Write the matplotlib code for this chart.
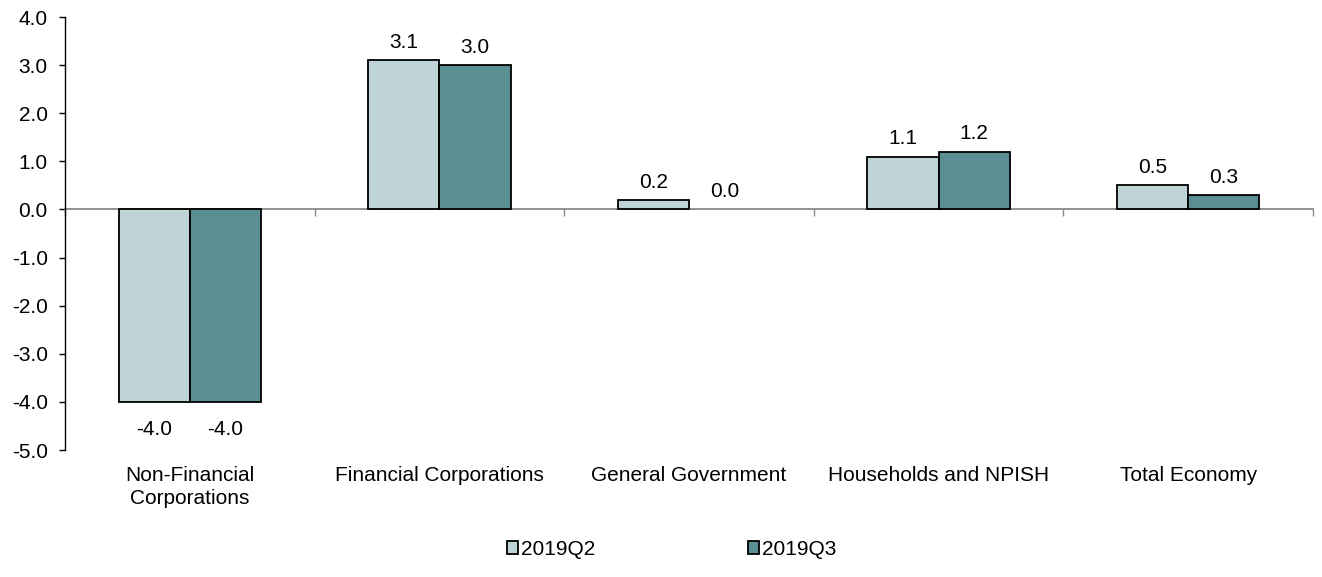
import numpy as np
import matplotlib.pyplot as plt

plt.rcParams['font.family'] = ['Liberation Sans', 'DejaVu Sans']

# Datos
categories = ['Non-Financial\nCorporations', 'Financial Corporations',
              'General Government', 'Households and NPISH', 'Total Economy']
q2 = [-4.0, 3.1, 0.2, 1.1, 0.5]
q3 = [-4.0, 3.0, 0.0, 1.2, 0.3]
series_names = ['2019Q2', '2019Q3']
col_q2 = '#bfd4d7'
col_q3 = '#5b8e93'
fs = 15

fig = plt.figure(figsize=(13.22, 5.77), dpi=100)
ax = fig.add_axes([0.0492, 0.2201, 0.9440, 0.7504])

x = np.arange(len(categories))
w = 0.285
b1 = ax.bar(x - w / 2, q2, w, color=col_q2, edgecolor='black', linewidth=1.3,
            label=series_names[0], zorder=3)
b2 = ax.bar(x + w / 2, q3, w, color=col_q3, edgecolor='black', linewidth=1.3,
            label=series_names[1], zorder=3)

# Etiquetas de valores
for bars, vals in ((b1, q2), (b2, q3)):
    for bar, v in zip(bars, vals):
        cx = bar.get_x() + bar.get_width() / 2
        if v == 0:
            bar.set_edgecolor('none')  # barra vacía, sin borde
        if v < 0:
            ax.annotate(f'{v:.1f}', (cx, v), xytext=(0, -13), textcoords='offset points',
                        ha='center', va='top', fontsize=fs)
        else:
            ax.annotate(f'{v:.1f}', (cx, v), xytext=(0, 6), textcoords='offset points',
                        ha='center', va='bottom', fontsize=fs)

ax.set_xlim(-0.5, len(categories) - 0.5)
ax.set_ylim(-5, 4)
ax.set_yticks(np.arange(-5, 4.5, 1))
ax.set_yticklabels([f'{t:.1f}' for t in np.arange(-5, 4.5, 1)], fontsize=fs)
ax.tick_params(axis='y', length=4.5, width=1, color='black', pad=8)

# Eje x en el cero
for s in ('top', 'right'):
    ax.spines[s].set_visible(False)
ax.spines['bottom'].set_position(('data', 0))
ax.spines['bottom'].set_color('#888888')
ax.spines['bottom'].set_linewidth(1.3)
ax.spines['bottom'].set_zorder(2)
ax.spines['left'].set_linewidth(1)
ax.set_xticks(np.arange(-0.5, len(categories), 1))
ax.set_xticklabels([])
ax.tick_params(axis='x', length=5, width=1, color='#888888', direction='out')

for i, c in enumerate(categories):
    ax.text(i, -0.037, c, transform=ax.get_xaxis_transform(), ha='center', va='top',
            fontsize=fs, linespacing=1.25)

fig.legend(handles=[b1, b2], labels=series_names, loc='center', bbox_to_anchor=(0.508, 0.048),
           ncol=2, frameon=False, fontsize=fs, handlelength=0.55, handleheight=0.55,
           handletextpad=0.15, columnspacing=7.3)

fig.savefig('out.png', dpi=100)
